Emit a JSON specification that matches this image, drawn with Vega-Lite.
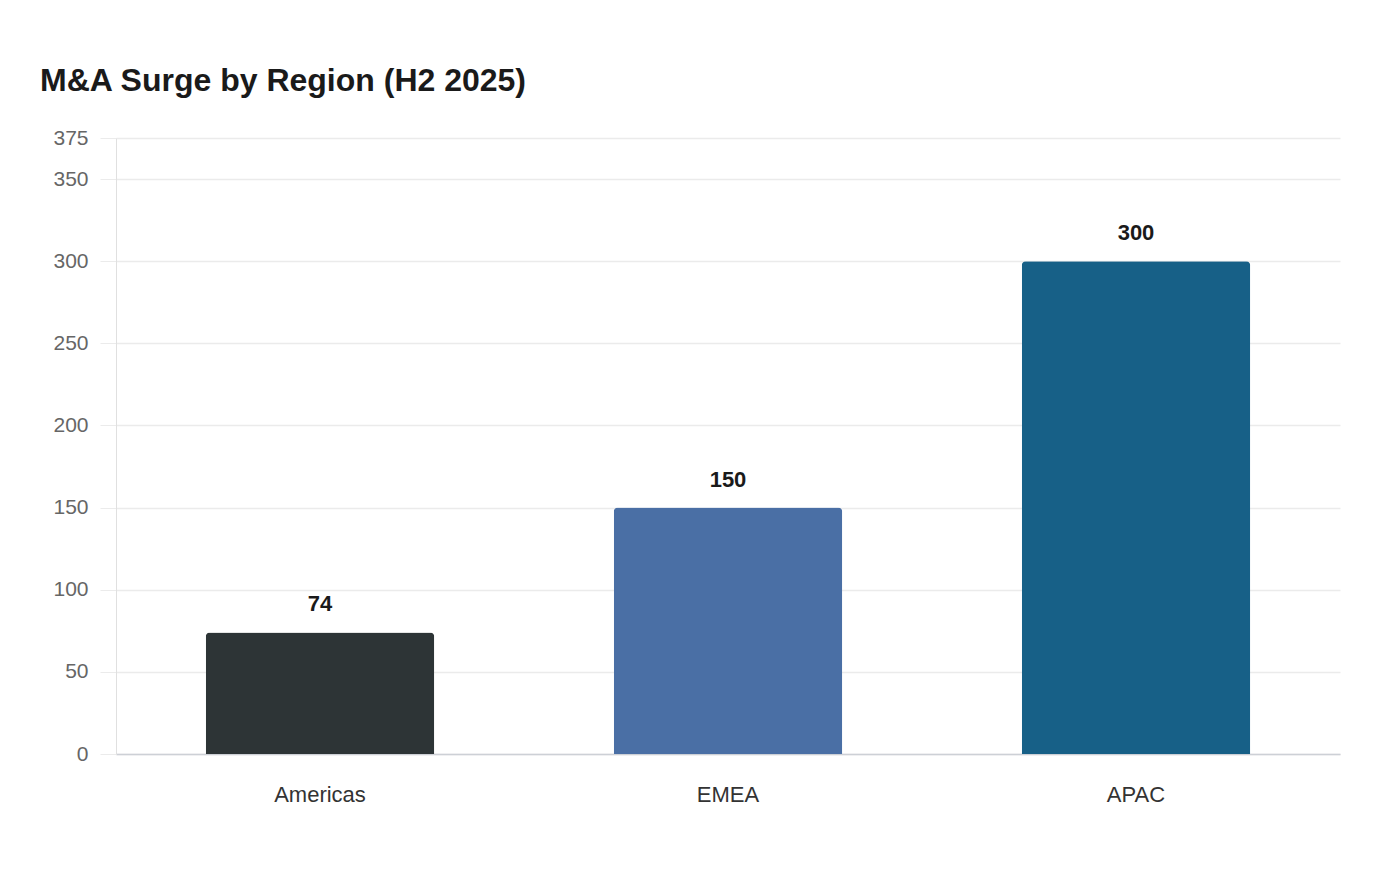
{
  "$schema": "https://vega.github.io/schema/vega-lite/v6.json",
  "autosize": {"type": "none"},
  "padding": {"left": 116, "top": 138, "right": 60, "bottom": 126},
  "width": 1224,
  "height": 616,
  "background": "#ffffff",
  "config": {
    "font": "Arial",
    "view": {"stroke": null},
    "axis": {"labelFont": "Arial"},
    "text": {"font": "Arial"}
  },
  "title": {
    "text": "M&A Surge by Region (H2 2025)",
    "anchor": "start",
    "frame": "group",
    "dx": -76,
    "offset": 29,
    "fontSize": 32,
    "fontWeight": "bold",
    "color": "#1a1a1a",
    "font": "Arial"
  },
  "data": {
    "values": [
      {"region": "Americas", "value": 74},
      {"region": "EMEA", "value": 150},
      {"region": "APAC", "value": 300}
    ]
  },
  "encoding": {
    "x": {
      "field": "region",
      "type": "nominal",
      "sort": ["Americas", "EMEA", "APAC"],
      "scale": {"paddingInner": 0.44, "paddingOuter": 0.22},
      "axis": {
        "title": null,
        "labelAngle": 0,
        "labelFontSize": 22,
        "labelColor": "#333333",
        "labelPadding": 30,
        "ticks": false,
        "domainColor": "#cdd0d6",
        "domainWidth": 1.5,
        "grid": false
      }
    },
    "y": {
      "field": "value",
      "type": "quantitative",
      "scale": {"domain": [0, 375], "nice": false},
      "axis": {
        "title": null,
        "values": [0, 50, 100, 150, 200, 250, 300, 350, 375],
        "labelFontSize": 21,
        "labelColor": "#666666",
        "labelPadding": 12,
        "tickSize": 16,
        "tickColor": "#ebebeb",
        "gridColor": "#ebebeb",
        "gridWidth": 1.5,
        "domainColor": "#e0e0e0",
        "domainWidth": 1
      }
    }
  },
  "layer": [
    {
      "mark": {"type": "bar", "cornerRadiusTopLeft": 4, "cornerRadiusTopRight": 4},
      "encoding": {
        "color": {
          "field": "region",
          "type": "nominal",
          "scale": {"domain": ["Americas", "EMEA", "APAC"], "range": ["#2d3436", "#4a6fa5", "#176087"]},
          "legend": null
        }
      }
    },
    {
      "mark": {"type": "text", "baseline": "alphabetic", "dy": -21, "fontSize": 22, "fontWeight": "bold", "color": "#1a1a1a", "font": "Arial"},
      "encoding": {
        "text": {"field": "value", "type": "quantitative"}
      }
    }
  ]
}
